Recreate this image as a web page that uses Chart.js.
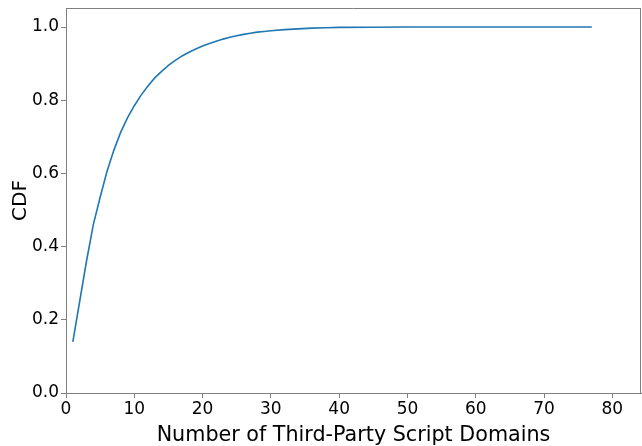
<!DOCTYPE html>
<html>
<head>
<meta charset="utf-8">
<script src="https://cdn.jsdelivr.net/npm/chart.js@4/dist/chart.umd.min.js"></script>
<style>
  html, body { margin: 0; padding: 0; background: #fff; }
  #wrap { width: 642px; height: 446px; }
</style>
</head>
<body>
<div id="wrap"><canvas id="cdf-chart" width="642" height="446"></canvas></div>
<script>
// ========== Data ==========

const domainCounts = [1, 2, 3, 4, 5, 6, 7, 8, 9, 10, 11, 12, 13, 14, 15, 16, 17, 18, 19, 20,
  21, 22, 23, 24, 25, 26, 27, 28, 29, 30, 32, 34, 36, 38, 40, 45, 50, 60, 70, 77];
const cdfValues = [0.14, 0.25, 0.36, 0.46, 0.535, 0.605, 0.663, 0.712, 0.752, 0.785,
  0.814, 0.839, 0.861, 0.879, 0.895, 0.909, 0.921, 0.931, 0.94, 0.948,
  0.955, 0.961, 0.967, 0.972, 0.976, 0.98, 0.983, 0.986, 0.988, 0.99,
  0.993, 0.995, 0.997, 0.998, 0.999, 0.9995, 1.0, 1.0, 1.0, 1.0];

const xTitle = 'Number of Third-Party Script Domains';
const yTitle = 'CDF';

// ========== Helpers ==========

const spineColor = '#7f7f7f';
const font = 'DejaVu Sans';

// draw the top and right spines like matplotlib does
const framePlugin = {
  id: 'frame',
  afterDraw(chart) {
    const { ctx, chartArea: a } = chart;
    ctx.save();
    ctx.strokeStyle = spineColor;
    ctx.lineWidth = 1;
    ctx.beginPath();
    ctx.moveTo(a.left, a.top + 0.5);
    ctx.lineTo(a.right, a.top + 0.5);
    ctx.moveTo(a.right - 0.5, a.top);
    ctx.lineTo(a.right - 0.5, a.bottom);
    ctx.stroke();
    ctx.restore();
  }
};

// ========== Chart ==========

const ctx = document.getElementById('cdf-chart').getContext('2d');

new Chart(ctx, {
  type: 'line',
  data: {
    datasets: [{
      data: domainCounts.map((x, i) => ({ x: x, y: cdfValues[i] })),
      borderColor: '#1f77b4',
      borderWidth: 1.6,
      pointRadius: 0,
      tension: 0,
      fill: false,
    }],
  },
  plugins: [framePlugin],
  options: {
    responsive: false,
    animation: false,
    layout: { padding: { top: 8, right: 1, left: 0, bottom: 0 } },
    plugins: { legend: { display: false }, tooltip: { enabled: false } },
    scales: {
      x: {
        type: 'linear',
        min: 0,
        max: 84.2,
        afterFit: (s) => { s.height = 53; s.paddingLeft = 0; s.paddingRight = 0; },
        grid: { drawOnChartArea: false, drawTicks: true, tickLength: 5, tickColor: spineColor },
        border: { color: spineColor, width: 1 },
        ticks: {
          stepSize: 10,
          includeBounds: false,
          color: '#000',
          padding: 1,
          maxRotation: 0,
          font: { family: font, size: 17 },
        },
        title: {
          display: true,
          text: xTitle,
          color: '#000',
          padding: { top: 1, bottom: 0 },
          font: { family: font, size: 20.7, lineHeight: 1.0 },
        },
      },
      y: {
        type: 'linear',
        min: 0,
        max: 1.052,
        afterFit: (s) => { s.width = 66; s.paddingTop = 0; s.paddingBottom = 0; },
        grid: { drawOnChartArea: false, drawTicks: true, tickLength: 5, tickColor: spineColor },
        border: { color: spineColor, width: 1 },
        ticks: {
          stepSize: 0.2,
          includeBounds: false,
          color: '#000',
          padding: 2,
          font: { family: font, size: 17 },
          callback: (v) => v.toFixed(1),
        },
        title: {
          display: true,
          text: yTitle,
          color: '#000',
          padding: { top: 9, bottom: 0 },
          font: { family: font, size: 20 },
        },
      },
    },
  },
});
</script>
</body>
</html>
